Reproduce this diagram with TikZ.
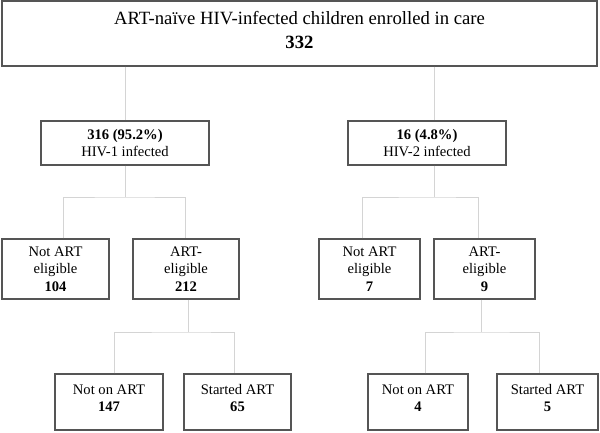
\documentclass[tikz,border=0pt]{standalone}
\usepackage{fontspec}
\setmainfont{Liberation Serif}
\definecolor{boxline}{HTML}{555555}
\definecolor{connline}{HTML}{D4D4D4}
\tikzset{
  box/.style={draw=boxline, line width=1.1pt, fill=white, align=center, inner sep=0pt, anchor=center},
  mid/.style={box, font=\fontsize{14.6}{17.5}\selectfont},
  conn/.style={draw=connline, line width=0.9pt},
}
\begin{document}
\begin{tikzpicture}[x=1pt,y=-1pt]
\useasboundingbox[fill=white] (0,0) rectangle (600,433);
% top
\node[box, minimum width=595, minimum height=65, font=\fontsize{18.7}{24}\selectfont] (top) at (299.5,33.5) {};
\node[font=\fontsize{18.7}{24}\selectfont, align=center, inner sep=0pt] (toptext) at (299.5,30) {ART-naïve HIV-infected children enrolled in care\\\textbf{332}};
% level 1
\node[mid, minimum width=168, minimum height=44] (hiv1) at (125,143) {\textbf{316 (95.2\%)}\\HIV-1 infected};
\node[mid, minimum width=158, minimum height=44] (hiv2) at (427,143) {\textbf{16 (4.8\%)}\\HIV-2 infected};
% level 2
\node[mid, minimum width=107, minimum height=60] (na1) at (55.5,269) {Not ART\\eligible\\\textbf{104}};
\node[mid, minimum width=106, minimum height=60] (ae1) at (186,269) {ART-\\eligible\\\textbf{212}};
\node[mid, minimum width=101, minimum height=60] (na2) at (369.5,269) {Not ART\\eligible\\\textbf{7}};
\node[mid, minimum width=101, minimum height=60] (ae2) at (484.5,269) {ART-\\eligible\\\textbf{9}};
% level 3
\node[mid, minimum width=108, minimum height=56, text depth=8pt] (no1) at (109,402) {Not on ART\\\textbf{147}};
\node[mid, minimum width=107, minimum height=56, text depth=8pt] (st1) at (237.5,402) {Started ART\\\textbf{65}};
\node[mid, minimum width=100, minimum height=56, text depth=8pt] (no2) at (418,402) {Not on ART\\\textbf{4}};
\node[mid, minimum width=101, minimum height=56, text depth=8pt] (st2) at (547.5,402) {Started ART\\\textbf{5}};
% connectors
\begin{scope}[on background layer/.style={}]
\draw[conn] (top.south -| hiv1.north) -- (hiv1.north);
\draw[conn] ([xshift=7]top.south -| hiv2.north) -- ([xshift=7]hiv2.north);
\coordinate (j1) at (125,197);
\draw[conn] (hiv1.south) -- (j1);
\draw[conn] ([xshift=7.5]na1.north) |- (j1) -| ([xshift=-1]ae1.north);
\coordinate (j2) at (434,197);
\draw[conn] ([xshift=7]hiv2.south) -- (j2);
\draw[conn] ([xshift=-7.5]na2.north) |- (j2) -| ([xshift=-6.5]ae2.north);
\coordinate (j3) at (188,332);
\draw[conn] ([xshift=2]ae1.south) -- (j3);
\draw[conn] ([xshift=5]no1.north) |- (j3) -| ([xshift=-3.5]st1.north);
\coordinate (j4) at (481,332);
\draw[conn] ([xshift=-3.5]ae2.south) -- (j4);
\draw[conn] ([xshift=7]no2.north) |- (j4) -| ([xshift=-8.5]st2.north);
\end{scope}
\end{tikzpicture}
\end{document}
